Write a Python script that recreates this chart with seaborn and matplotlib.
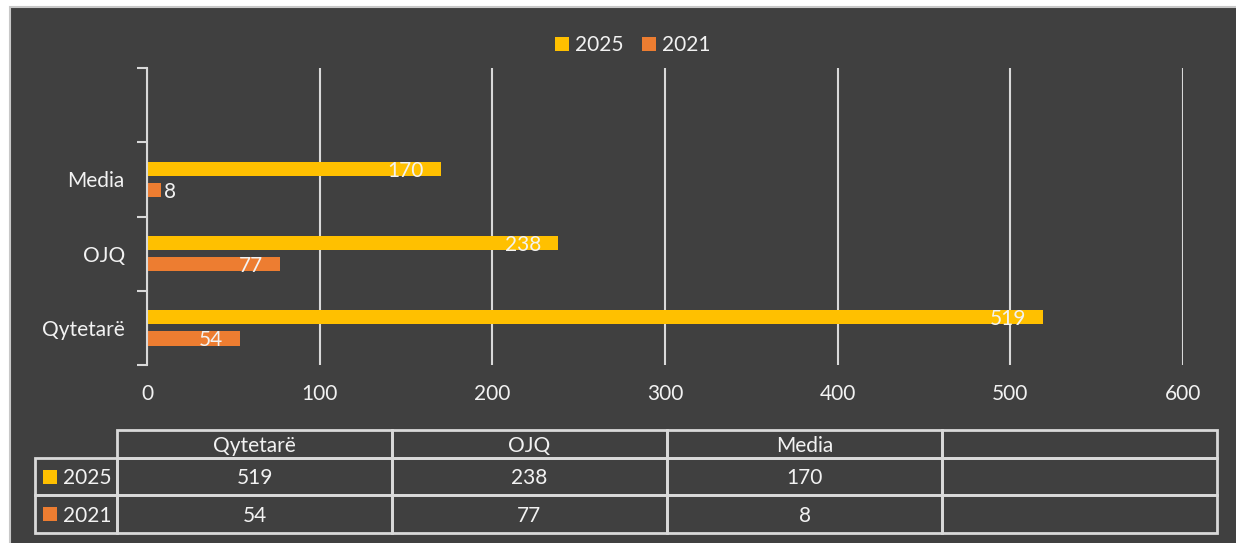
import pandas as pd
import seaborn as sns
import matplotlib.pyplot as plt
from matplotlib.patches import Patch, Rectangle

# Data
categories = ['Qytetarë', 'OJQ', 'Media', '']
years = ['2025', '2021']
values_2025 = [519, 238, 170, None]
values_2021 = [54, 77, 8, None]
x_ticks = [0, 100, 200, 300, 400, 500, 600]

colors = ['#FFC000', '#ED7D31']
bg = '#404040'
fg = '#f2f2f2'
line_col = '#d9d9d9'

sns.set_theme(style='dark')
plt.rcParams['font.family'] = ['Lato', 'DejaVu Sans']

# long table for seaborn
rows = []
for cat, v25, v21 in zip(categories, values_2025, values_2021):
    if v25 is not None:
        rows.append({'category': cat, 'year': years[0], 'value': v25})
    if v21 is not None:
        rows.append({'category': cat, 'year': years[1], 'value': v21})
df = pd.DataFrame(rows)

W, H = 1236, 543
fig = plt.figure(figsize=(W / 100, H / 100), dpi=100, facecolor='white')
fig.patches.append(Rectangle((10 / W, -0.01), 1.0, (H - 7) / H + 0.01,
                             transform=fig.transFigure, facecolor=bg,
                             edgecolor='#c8c8c8', linewidth=1.5, zorder=-5))

ax = fig.add_axes([147 / W, 1 - 365 / H, (1183 - 147) / W, (365 - 68) / H])
ax.set_facecolor(bg)

sns.barplot(data=df, y='category', x='value', hue='year',
            order=categories[::-1], hue_order=years, palette=colors,
            orient='h', width=0.57, gap=0.33, saturation=1, linewidth=0,
            errorbar=None, legend=False, ax=ax)

# value labels (inside end, outside if the bar is too short)
for cont in ax.containers:
    for bar in cont.patches:
        w = bar.get_width()
        if w != w or w == 0:
            continue
        yc = bar.get_y() + bar.get_height() / 2
        if w > 30:
            ax.annotate(f'{w:g}', (w, yc), xytext=(-17, 0), textcoords='offset pixels',
                        ha='right', va='center_baseline', color=fg, fontsize=15)
        else:
            ax.annotate(f'{w:g}', (w, yc), xytext=(3, 0), textcoords='offset pixels',
                        ha='left', va='center_baseline', color=fg, fontsize=15)

ax.set_xlim(0, 600)
ax.set_ylim(len(categories) - 0.5, -0.5)
ax.set_xticks(x_ticks)
ax.set_xticklabels([str(t) for t in x_ticks])
ax.tick_params(axis='x', length=0, pad=14, labelsize=15, labelcolor=fg)

ax.set_yticks([i - 0.5 for i in range(len(categories) + 1)])
ax.set_yticklabels([])
ax.set_yticks(range(len(categories)), minor=True)
ax.set_yticklabels(categories[::-1], minor=True)
ax.tick_params(axis='y', which='major', length=7, width=1.5, color=line_col, left=True)
ax.tick_params(axis='y', which='minor', length=0, pad=16, labelsize=15, labelcolor=fg)

ax.grid(axis='x', color=line_col, linewidth=1.5)
ax.grid(axis='y', visible=False)
for s in ['top', 'right', 'bottom']:
    ax.spines[s].set_visible(False)
ax.spines['left'].set_visible(True)
ax.spines['left'].set_color(line_col)
ax.spines['left'].set_linewidth(1.5)
ax.set_xlabel('')
ax.set_ylabel('')

# legend at top
handles = [Patch(facecolor=c, edgecolor='none', label=y) for c, y in zip(colors, years)]
fig.legend(handles=handles, loc='center', bbox_to_anchor=(633 / W, 1 - 45 / H),
           ncol=2, frameon=False, fontsize=15, labelcolor=fg,
           handlelength=0.65, handleheight=0.65, handletextpad=0.3, columnspacing=0.9)

# data table below the chart
tx0, tx1, ty0, ty1 = 35, 1217, 430, 533
tax = fig.add_axes([tx0 / W, 1 - ty1 / H, (tx1 - tx0) / W, (ty1 - ty0) / H])
tax.set_xlim(0, tx1 - tx0)
tax.set_ylim(ty1 - ty0, 0)
tax.axis('off')

label_w = 82
col_w = (tx1 - tx0 - label_w) / len(categories)
row_edges = [0, 28, 65, 103]
series = [values_2025, values_2021]

def cell(x, y, w, h):
    tax.add_patch(Rectangle((x, y), w, h, facecolor='none', edgecolor=line_col,
                            linewidth=2, clip_on=False))

for j, cat in enumerate(categories):
    x = label_w + j * col_w
    cell(x, row_edges[0], col_w, row_edges[1] - row_edges[0])
    tax.text(x + col_w / 2, (row_edges[0] + row_edges[1]) / 2, cat, ha='center',
             va='center_baseline', color=fg, fontsize=15)

for i, (yr, vals, c) in enumerate(zip(years, series, colors)):
    y0, y1 = row_edges[i + 1], row_edges[i + 2]
    yc = (y0 + y1) / 2
    cell(0, y0, label_w, y1 - y0)
    tax.add_patch(Rectangle((8, yc - 7), 14, 14, facecolor=c, edgecolor='none'))
    tax.text(28, yc, yr, ha='left', va='center_baseline', color=fg, fontsize=15)
    for j, v in enumerate(vals):
        x = label_w + j * col_w
        cell(x, y0, col_w, y1 - y0)
        if v is not None:
            tax.text(x + col_w / 2, yc, str(v), ha='center', va='center_baseline',
                     color=fg, fontsize=15)

fig.savefig('out.png', dpi=100, facecolor=fig.get_facecolor())
